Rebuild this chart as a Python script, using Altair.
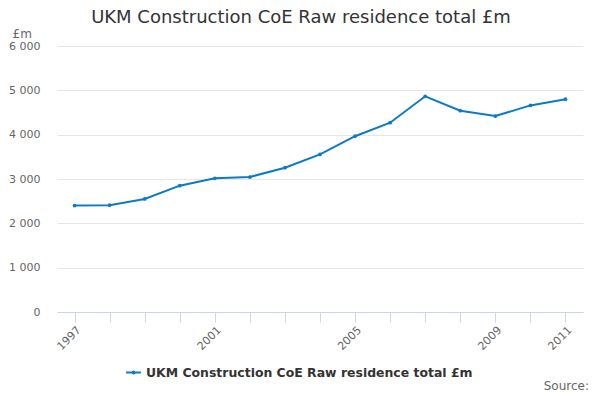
import pandas as pd
import altair as alt

series_name = "UKM Construction CoE Raw residence total £m"
years = [str(y) for y in range(1997, 2012)]
values = [2400, 2410, 2550, 2850, 3015, 3045, 3255, 3555, 3965, 4270, 4865, 4540, 4420, 4660, 4800]
shown_years = ["1997", "2001", "2005", "2009", "2011"]
y_ticks = [0, 1000, 2000, 3000, 4000, 5000, 6000]

df = pd.DataFrame({"year": years, "value": values, "series": series_name})

font = "DejaVu Sans"
blue = "#0b7bc3"

# legend symbol: short line with a dot in the middle
line_dot = "M-1,0H1M-0.12,0a0.12,0.12 0 1,0 0.24,0a0.12,0.12 0 1,0 -0.24,0"

line = alt.Chart(df).mark_line(
    strokeWidth=2,
    point=alt.OverlayMarkDef(filled=True, size=14),
).encode(
    x=alt.X("year:O", sort=years,
            scale=alt.Scale(type="point", padding=0.5),
            axis=alt.Axis(title=None, labelAngle=-45, labelAlign="right",
                          labelBaseline="top", labelColor="#666", labelFontSize=11,
                          labelPadding=2, tickSize=10, tickColor="#ccd6eb",
                          domainColor="#ccd6eb", grid=False, labelFont=font,
                          labelExpr="indexof(" + str(shown_years) + ", datum.label) >= 0 ? datum.label : ''")),
    y=alt.Y("value:Q", scale=alt.Scale(domain=[0, 6000], nice=False),
            axis=alt.Axis(values=y_ticks, title="£m", titleAngle=0, titleX=-45, titleY=-9,
                          titleAlign="left", titleBaseline="alphabetic",
                          titleFontWeight="normal", titleFontSize=12, titleColor="#666",
                          titleFont=font, labelFont=font,
                          labelColor="#666", labelFontSize=11, labelPadding=17,
                          tickSize=0, domain=False, gridColor="#e6e6e6",
                          labelExpr="replace(format(datum.value, ','), ',', ' ')")),
    color=alt.Color("series:N", scale=alt.Scale(range=[blue]),
                    legend=alt.Legend(title=None, orient="none", legendX=68, legendY=318,
                                      symbolType=line_dot, symbolStrokeWidth=2, symbolSize=220,
                                      labelFont=font, labelFontSize=12.45, labelFontWeight="bold",
                                      labelColor="#333", labelLimit=500)),
)

source = alt.Chart(pd.DataFrame({"t": ["Source:"]})).mark_text(
    align="right", baseline="alphabetic", fontSize=12, color="#666", font=font
).encode(x=alt.value(532), y=alt.value(344), text="t:N")

chart = (line + source).properties(
    width=526, height=266,
    autosize=alt.AutoSizeParams(type="none"),
    padding={"left": 49, "top": 38, "right": 9, "bottom": 80},
    title=alt.TitleParams(series_name, anchor="middle", fontSize=18, fontWeight="normal",
                          color="#333", font=font, dx=-19, offset=0),
).configure_view(stroke=None)

chart.save("out.html", embed_options={"renderer": "svg", "actions": False})
